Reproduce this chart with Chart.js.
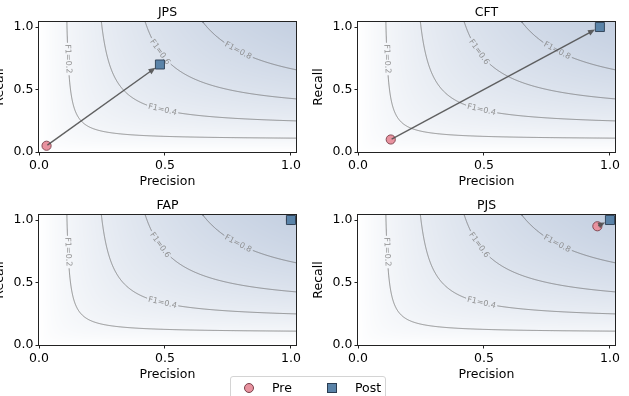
<!DOCTYPE html>
<html lang="en">
<head>
  <meta charset="UTF-8" />
  <title>Pre / Post precision-recall</title>
  <script src="https://cdn.jsdelivr.net/npm/chart.js"></script>
  <style>
    body {
      margin: 0;
      width: 629px;
      height: 396px;
      overflow: hidden;
      position: relative;
      background: #fff;
      font-family: 'DejaVu Sans', sans-serif;
    }
    canvas { position: absolute; display: block; }

    .legend {
      position: absolute;
      left: 230px;
      top: 376px;
      width: 154px;
      height: 30px;
      border: 1px solid #d4d4d4;
      border-radius: 3px;
      background: rgba(255, 255, 255, 0.8);
      font-size: 12.5px;
      color: #000;
    }
    .legend span { position: absolute; }
    .legend .txt { top: 3px; line-height: 15px; }
    .mk-pre {
      left: 13px; top: 6px;
      width: 8px; height: 8px;
      border-radius: 50%;
      background: #e8929f;
      border: 0.8px solid #7a4049;
    }
    .mk-post {
      left: 96px; top: 6px;
      width: 8px; height: 8px;
      background: #5a83a8;
      border: 0.8px solid #2b3d52;
    }
  </style>
</head>
<body>
  <canvas id="c0" width="316" height="189" style="left:-8px;top:0"></canvas>
  <canvas id="c1" width="316" height="189" style="left:311px;top:0"></canvas>
  <canvas id="c2" width="316" height="189" style="left:-8px;top:193px"></canvas>
  <canvas id="c3" width="316" height="189" style="left:311px;top:193px"></canvas>

  <div class="legend">
    <span class="mk-pre"></span><span class="txt" style="left:41px">Pre</span>
    <span class="mk-post"></span><span class="txt" style="left:124px">Post</span>
  </div>

  <script>
    // values
    const PANELS = ['JPS', 'CFT', 'FAP', 'PJS'];
    const PRE_PRECISION = [0.03, 0.13, 1.00, 0.95];
    const PRE_RECALL = [0.05, 0.10, 1.00, 0.95];
    const POST_PRECISION = [0.48, 0.96, 1.00, 1.00];
    const POST_RECALL = [0.70, 1.00, 1.00, 1.00];
    const AXIS_TICKS = [0, 0.5, 1.0];
    const F1_LEVELS = [0.2, 0.4, 0.6, 0.8];

    const X_MAX = 1.02;
    const Y_MAX = 1.04;
    // where along each contour (precision) its label sits
    const LABEL_AT = [0.1155, 0.49, 0.48, 0.79];

    Chart.defaults.font.family = "'DejaVu Sans', sans-serif";
    Chart.defaults.font.size = 12.5;
    Chart.defaults.color = '#000';

    const f1 = (p, r) => (p + r > 0 ? 2 * p * r / (p + r) : 0);

    // F1 shaded background + iso-F1 curves with inline labels
    const f1Backdrop = {
      id: 'f1Backdrop',
      beforeDraw(chart) {
        const { ctx, chartArea: a, scales: { x, y } } = chart;
        const w = Math.round(a.right - a.left), h = Math.round(a.bottom - a.top);
        const img = ctx.createImageData(w, h);
        for (let j = 0; j < h; j++) {
          const r = y.getValueForPixel(a.top + j + 0.5);
          for (let i = 0; i < w; i++) {
            const p = x.getValueForPixel(a.left + i + 0.5);
            const t = Math.min(f1(p, r), 1.05);
            const k = (j * w + i) * 4;
            img.data[k] = 255 - 57 * t;
            img.data[k + 1] = 255 - 46 * t;
            img.data[k + 2] = 255 - 29 * t;
            img.data[k + 3] = 255;
          }
        }
        ctx.putImageData(img, a.left, a.top);

        ctx.save();
        ctx.beginPath();
        ctx.rect(a.left, a.top, a.right - a.left, a.bottom - a.top);
        ctx.clip();
        ctx.font = "8px 'DejaVu Sans', sans-serif";
        F1_LEVELS.forEach((f, n) => {
          const rOf = p => f * p / (2 * p - f);
          const lp = LABEL_AT[n];
          const lx = x.getPixelForValue(lp), ly = y.getPixelForValue(rOf(lp));
          const ax = x.getPixelForValue(lp + 0.003) - x.getPixelForValue(lp - 0.003);
          const ay = y.getPixelForValue(rOf(lp + 0.003)) - y.getPixelForValue(rOf(lp - 0.003));
          const ang = Math.atan2(ay, ax);
          const text = 'F1=' + f.toFixed(1);
          const gap = ctx.measureText(text).width / 2 + 1.5;

          const pMin = f * Y_MAX / (2 * Y_MAX - f);
          ctx.strokeStyle = 'rgba(105,105,105,0.8)';
          ctx.lineWidth = 0.9;
          ctx.beginPath();
          let pen = false;
          const N = 700;
          for (let s = 0; s <= N; s++) {
            const u = s / N;
            const p = pMin + (X_MAX - pMin) * u * u;
            const px = x.getPixelForValue(p), py = y.getPixelForValue(rOf(p));
            if (Math.hypot(px - lx, py - ly) < gap) { pen = false; continue; }
            if (pen) ctx.lineTo(px, py); else { ctx.moveTo(px, py); pen = true; }
          }
          ctx.stroke();

          ctx.save();
          ctx.translate(lx, ly);
          ctx.rotate(ang);
          ctx.fillStyle = 'rgba(135,135,135,0.9)';
          ctx.textAlign = 'center';
          ctx.textBaseline = 'middle';
          ctx.fillText(text, 0, 0);
          ctx.restore();
        });
        ctx.restore();
      }
    };

    // arrow pre -> post, panel title and the axes frame
    const overlay = {
      id: 'overlay',
      afterDatasetsDraw(chart) {
        const { ctx, scales: { x, y } } = chart;
        const i = chart.options.plugins.overlay.index;
        const x0 = x.getPixelForValue(PRE_PRECISION[i]), y0 = y.getPixelForValue(PRE_RECALL[i]);
        const x1 = x.getPixelForValue(POST_PRECISION[i]), y1 = y.getPixelForValue(POST_RECALL[i]);
        const dx = x1 - x0, dy = y1 - y0, len = Math.hypot(dx, dy);
        if (len < 9) return;
        const ux = dx / len, uy = dy / len;
        const tx = x1 - ux * 5.5, ty = y1 - uy * 5.5;
        const hl = 7, hw = 3;
        ctx.save();
        ctx.strokeStyle = 'rgba(80,80,80,0.9)';
        ctx.fillStyle = 'rgba(80,80,80,0.9)';
        ctx.lineWidth = 1.4;
        ctx.beginPath();
        ctx.moveTo(x0 + ux, y0 + uy);
        ctx.lineTo(tx - ux * hl * 0.8, ty - uy * hl * 0.8);
        ctx.stroke();
        ctx.beginPath();
        ctx.moveTo(tx, ty);
        ctx.lineTo(tx - ux * hl - uy * hw, ty - uy * hl + ux * hw);
        ctx.lineTo(tx - ux * hl + uy * hw, ty - uy * hl - ux * hw);
        ctx.closePath();
        ctx.fill();
        ctx.restore();
      },
      afterDraw(chart) {
        const { ctx, chartArea: a } = chart;
        ctx.save();
        ctx.strokeStyle = '#222';
        ctx.lineWidth = 1;
        ctx.strokeRect(a.left - 0.5, a.top - 0.5, a.right - a.left + 1, a.bottom - a.top + 1);
        ctx.fillStyle = '#000';
        ctx.font = "12.5px 'DejaVu Sans', sans-serif";
        ctx.textAlign = 'center';
        ctx.textBaseline = 'middle';
        ctx.fillText(chart.options.plugins.overlay.title, (a.left + a.right) / 2, a.top - 9.5);
        ctx.restore();
      }
    };

    function axis(title, fit) {
      return {
        type: 'linear',
        min: 0,
        max: title === 'Precision' ? X_MAX : Y_MAX,
        bounds: 'data',
        afterBuildTicks: s => { s.ticks = AXIS_TICKS.map(v => ({ value: v })); },
        afterFit: fit,
        grid: { drawOnChartArea: false, drawTicks: true, tickLength: 3.5, tickWidth: 1, tickColor: '#222' },
        border: { display: false },
        ticks: {
          padding: title === 'Precision' ? 2.5 : 2,
          maxRotation: 0,
          autoSkip: false,
          callback: v => v.toFixed(1)
        },
        title: { display: true, text: title, padding: 0 }
      };
    }

    PANELS.forEach((name, i) => {
      new Chart(document.getElementById('c' + i), {
        type: 'scatter',
        data: {
          datasets: [
            {
              label: 'Post',
              order: 0,
              data: [{ x: POST_PRECISION[i], y: POST_RECALL[i] }],
              pointStyle: 'rect',
              pointRadius: 6.4,
              backgroundColor: '#5a83a8',
              borderColor: '#2b3d52',
              borderWidth: 0.9
            },
            {
              label: 'Pre',
              order: 1,
              data: [{ x: PRE_PRECISION[i], y: PRE_RECALL[i] }],
              pointStyle: 'circle',
              pointRadius: 4.6,
              backgroundColor: '#e8929f',
              borderColor: '#7a4049',
              borderWidth: 0.9
            }
          ]
        },
        options: {
          responsive: false,
          animation: false,
          events: [],
          layout: { padding: { top: 22, right: 12, left: 0, bottom: 0 } },
          scales: {
            x: axis('Precision', s => { s.height = 37; }),
            y: axis('Recall', s => { s.width = 47; })
          },
          plugins: {
            legend: { display: false },
            tooltip: { enabled: false },
            overlay: { index: i, title: name }
          }
        },
        plugins: [f1Backdrop, overlay]
      });
    });
  </script>
</body>
</html>
